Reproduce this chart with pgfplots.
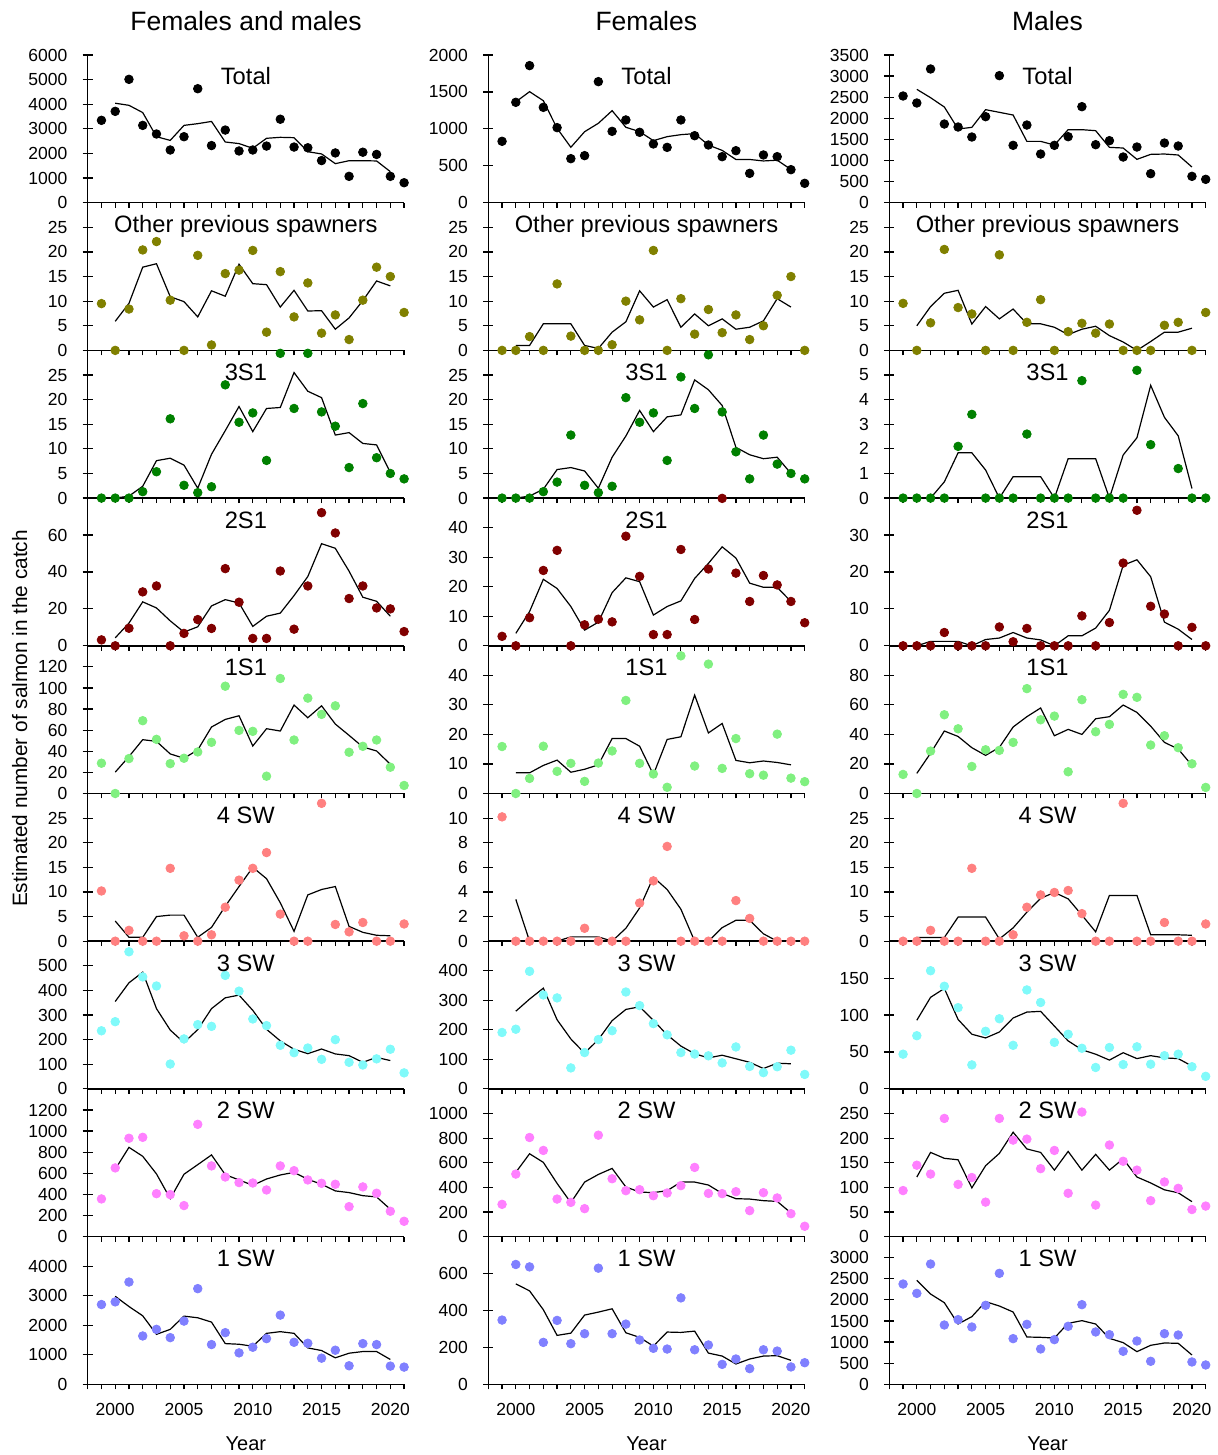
\documentclass[border=0pt]{standalone}
\usepackage{fontspec}
\setmainfont{Liberation Sans}
\usepackage{pgfplots}
\pgfplotsset{compat=1.18}
\definecolor{cTot}{RGB}{0,0,0}
\definecolor{cOth}{RGB}{128,128,0}
\definecolor{cThr}{RGB}{0,128,0}
\definecolor{cTwo}{RGB}{128,0,0}
\definecolor{cOne}{RGB}{128,240,128}
\definecolor{cFsw}{RGB}{255,128,128}
\definecolor{cTsw}{RGB}{128,250,250}
\definecolor{cSsw}{RGB}{255,128,255}
\definecolor{cWsw}{RGB}{128,128,255}
\pgfplotsset{
  /pgf/number format/assume math mode=true,
  panel/.style={
    scale only axis, width=158.2pt, height=73.85pt,
    anchor=north west,
    xmin=1998, xmax=2021, ymin=0,
    axis lines=left, axis line style={-, line width=0.75pt},
    clip=false,
    tick align=center, major tick length=5pt, minor tick length=2.5pt,
    tick style={black, line width=0.6pt},
    xtick={2000,2005,...,2020}, minor xtick={1998,...,2021},
    major x tick style={draw=none}, minor x tick style={yshift=-1.25pt},
    xticklabels={},
    scaled y ticks=false,
    yticklabel style={inner sep=0pt, xshift=-7.5pt, font=\fontsize{8.75}{10}\selectfont,
      /pgf/number format/fixed, /pgf/number format/1000 sep={}},
    title style={at={(0.5,1)}, anchor=base, yshift=-21pt, inner sep=0pt,
      font=\fontsize{11.85}{14}\selectfont},
  },
  bottom/.style={
    xticklabels={2000,2005,2010,2015,2020},
    xticklabel style={inner sep=0pt, yshift=-7pt, font=\fontsize{8.75}{10}\selectfont},
    xlabel={Year},
    xlabel style={at={(0.5,0)}, anchor=base, yshift=-32.85pt, inner sep=0pt,
      font=\fontsize{10}{12}\selectfont},
  },
}
\newcommand{\obs}[2]{\addplot[only marks, mark=*, mark size=2.15pt, color=#1] coordinates {#2};}
\newcommand{\trend}[1]{\addplot[black, line width=0.6pt, mark=none] coordinates {#1};}
\begin{document}
\begin{tikzpicture}
\path[use as bounding box] (0,0) rectangle (609pt,727.5pt);
\node[anchor=base, font=\fontsize{13.25}{15}\selectfont] at (123pt,712pt) {Females and males};
\node[anchor=base, font=\fontsize{13.25}{15}\selectfont] at (323.15pt,712pt) {Females};
\node[anchor=base, font=\fontsize{13.25}{15}\selectfont] at (523.75pt,712pt) {Males};
\node[anchor=base, rotate=90, font=\fontsize{10.4}{12}\selectfont] at (13.5pt,368.25pt) {Estimated number of salmon in the catch};

% ================= Column 1: Females and males =================
\begin{axis}[panel, at={(43.85pt,700pt)}, ymax=6000, ytick={0,1000,...,6000}, title={Total}]
\obs{cTot}{(1999,3345)(2000,3710)(2001,5010)(2002,3140)(2003,2790)(2004,2140)(2005,2680)(2006,4630)(2007,2320)(2008,2950)(2009,2100)(2010,2140)(2011,2300)(2012,3390)(2013,2260)(2014,2230)(2015,1710)(2016,2020)(2017,1070)(2018,2050)(2019,1960)(2020,1070)(2021,810)}
\trend{(2000,4040)(2001,3955)(2002,3660)(2003,2680)(2004,2530)(2005,3140)(2006,3210)(2007,3300)(2008,2465)(2009,2400)(2010,2210)(2011,2615)(2012,2655)(2013,2640)(2014,2070)(2015,1980)(2016,1585)(2017,1705)(2018,1705)(2019,1695)(2020,1260)}
\end{axis}
\begin{axis}[panel, at={(43.85pt,626.15pt)}, ymax=30, ytick={0,5,...,25}, title={Other previous spawners}]
\obs{cOth}{(1999,9.5)(2000,0)(2001,8.4)(2002,20.4)(2003,22.1)(2004,10.2)(2005,0)(2006,19.3)(2007,1.1)(2008,15.6)(2009,16.3)(2010,20.3)(2011,3.7)(2012,16.0)(2013,6.8)(2014,13.7)(2015,3.5)(2016,7.2)(2017,2.2)(2018,10.2)(2019,16.9)(2020,15.0)(2021,7.7)}
\trend{(2000,5.9)(2001,9.55)(2002,16.9)(2003,17.6)(2004,10.9)(2005,9.9)(2006,6.8)(2007,12.1)(2008,11.0)(2009,17.5)(2010,13.55)(2011,13.35)(2012,8.8)(2013,12.2)(2014,8.0)(2015,8.06)(2016,4.3)(2017,6.6)(2018,10.1)(2019,14.1)(2020,13.1)}
\end{axis}
\begin{axis}[panel, at={(43.85pt,552.3pt)}, ymax=30, ytick={0,5,...,25}, title={3S1}]
\obs{cThr}{(1999,0)(2000,0)(2001,0)(2002,1.3)(2003,5.35)(2004,16.1)(2005,2.6)(2006,1.1)(2007,2.3)(2008,23.0)(2009,15.4)(2010,17.3)(2011,7.65)(2012,29.4)(2013,18.2)(2014,29.4)(2015,17.5)(2016,14.6)(2017,6.2)(2018,19.2)(2019,8.2)(2020,5.0)(2021,3.9)}
\trend{(2000,0)(2001,0.4)(2002,2.4)(2003,7.6)(2004,8.1)(2005,6.7)(2006,2.0)(2007,8.9)(2008,13.7)(2009,18.6)(2010,13.5)(2011,18.2)(2012,18.4)(2013,25.5)(2014,21.7)(2015,20.4)(2016,12.8)(2017,13.3)(2018,11.1)(2019,10.8)(2020,5.2)}
\end{axis}
\begin{axis}[panel, at={(43.85pt,478.45pt)}, ymax=80, ytick={0,20,40,60}, title={2S1}]
\obs{cTwo}{(1999,3.2)(2000,0)(2001,9.5)(2002,29.2)(2003,32.4)(2004,0)(2005,6.7)(2006,14.2)(2007,9.4)(2008,41.8)(2009,23.6)(2010,4.0)(2011,4.0)(2012,40.5)(2013,9.0)(2014,32.4)(2015,72.1)(2016,61.1)(2017,25.6)(2018,32.4)(2019,20.5)(2020,20.0)(2021,7.7)}
\trend{(2000,4.3)(2001,12.3)(2002,23.8)(2003,20.5)(2004,13.5)(2005,7.4)(2006,10.3)(2007,21.6)(2008,25.0)(2009,23.2)(2010,10.5)(2011,16.0)(2012,17.7)(2013,27.2)(2014,37.5)(2015,55.3)(2016,52.8)(2017,40.4)(2018,26.3)(2019,24.1)(2020,16.0)}
\end{axis}
\begin{axis}[panel, at={(43.85pt,404.6pt)}, ymax=140, ytick={0,20,...,120}, title={1S1}]
\obs{cOne}{(1999,28.7)(2000,0)(2001,33.1)(2002,69.0)(2003,51.3)(2004,28.3)(2005,33.4)(2006,39.4)(2007,48.5)(2008,101.7)(2009,59.8)(2010,58.9)(2011,16.4)(2012,109.0)(2013,50.7)(2014,90.4)(2015,75.0)(2016,83.1)(2017,39.1)(2018,44.7)(2019,50.7)(2020,24.9)(2021,7.6)}
\trend{(2000,20.2)(2001,35.0)(2002,51.0)(2003,49.4)(2004,37.5)(2005,33.4)(2006,41.3)(2007,63.0)(2008,70.2)(2009,73.7)(2010,45.0)(2011,61.4)(2012,59.2)(2013,83.8)(2014,71.8)(2015,83.1)(2016,65.8)(2017,55.1)(2018,44.1)(2019,40.3)(2020,27.7)}
\end{axis}
\begin{axis}[panel, at={(43.85pt,330.75pt)}, ymax=30, ytick={0,5,...,25}, title={4 SW}]
\obs{cFsw}{(1999,10.2)(2000,0)(2001,2.2)(2002,0)(2003,0)(2004,14.8)(2005,1.1)(2006,0)(2007,1.3)(2008,6.9)(2009,12.4)(2010,14.8)(2011,18.0)(2012,5.5)(2013,0)(2014,0)(2015,28.0)(2016,3.4)(2017,1.9)(2018,3.8)(2019,0)(2020,0)(2021,3.5)}
\trend{(2000,4.1)(2001,0.8)(2002,0.8)(2003,5.0)(2004,5.3)(2005,5.3)(2006,0.8)(2007,2.8)(2008,7.1)(2009,11.1)(2010,15.0)(2011,12.7)(2012,7.8)(2013,2.0)(2014,9.4)(2015,10.5)(2016,11.1)(2017,3.0)(2018,1.8)(2019,1.2)(2020,1.1)}
\end{axis}
\begin{axis}[panel, at={(43.85pt,256.9pt)}, ymax=600, ytick={0,100,...,500}, title={3 SW}]
\obs{cTsw}{(1999,236)(2000,273)(2001,557)(2002,455)(2003,418)(2004,101)(2005,203)(2006,261)(2007,254)(2008,461)(2009,397)(2010,284)(2011,257)(2012,177)(2013,147)(2014,166)(2015,120)(2016,200)(2017,108)(2018,97)(2019,122)(2020,161)(2021,65)}
\trend{(2000,355)(2001,431)(2002,474)(2003,326)(2004,239)(2005,188)(2006,241)(2007,326)(2008,370)(2009,381)(2010,319)(2011,242)(2012,195)(2013,161)(2014,143)(2015,162)(2016,142)(2017,135)(2018,108)(2019,128)(2020,115)}
\end{axis}
\begin{axis}[panel, at={(43.85pt,183.05pt)}, ymax=1400, ytick={0,200,...,1200}, title={2 SW}]
\obs{cSsw}{(1999,357)(2000,651)(2001,932)(2002,941)(2003,407)(2004,398)(2005,294)(2006,1064)(2007,670)(2008,565)(2009,512)(2010,508)(2011,442)(2012,670)(2013,625)(2014,537)(2015,505)(2016,496)(2017,284)(2018,471)(2019,411)(2020,240)(2021,145)}
\trend{(2000,638)(2001,846)(2002,761)(2003,594)(2004,360)(2005,591)(2006,682)(2007,774)(2008,587)(2009,537)(2010,486)(2011,546)(2012,584)(2013,609)(2014,543)(2015,496)(2016,433)(2017,417)(2018,388)(2019,376)(2020,259)}
\end{axis}
\begin{axis}[panel, bottom, at={(43.85pt,109.2pt)}, ymax=5000, ytick={0,1000,...,4000}, title={1 SW}]
\obs{cWsw}{(1999,2700)(2000,2790)(2001,3462)(2002,1636)(2003,1860)(2004,1580)(2005,2140)(2006,3238)(2007,1345)(2008,1748)(2009,1064)(2010,1255)(2011,1546)(2012,2342)(2013,1423)(2014,1389)(2015,885)(2016,1154)(2017,627)(2018,1378)(2019,1345)(2020,616)(2021,583)}
\trend{(2000,2980)(2001,2633)(2002,2319)(2003,1692)(2004,1860)(2005,2308)(2006,2252)(2007,2106)(2008,1378)(2009,1356)(2010,1289)(2011,1725)(2012,1782)(2013,1725)(2014,1232)(2015,1143)(2016,896)(2017,1053)(2018,1109)(2019,1109)(2020,840)}
\end{axis}

% ================= Column 2: Females =================
\begin{axis}[panel, at={(244.15pt,700pt)}, ymax=2000, ytick={0,500,...,2000}, title={Total}]
\obs{cTot}{(1999,831)(2000,1359)(2001,1856)(2002,1291)(2003,1016)(2004,596)(2005,637)(2006,1639)(2007,966)(2008,1120)(2009,953)(2010,795)(2011,749)(2012,1120)(2013,907)(2014,781)(2015,623)(2016,704)(2017,397)(2018,646)(2019,623)(2020,447)(2021,262)}
\trend{(2000,1365)(2001,1503)(2002,1381)(2003,1007)(2004,750)(2005,961)(2006,1075)(2007,1246)(2008,1021)(2009,962)(2010,840)(2011,894)(2012,921)(2013,935)(2014,780)(2015,708)(2016,585)(2017,585)(2018,565)(2019,575)(2020,450)}
\end{axis}
\begin{axis}[panel, at={(244.15pt,626.15pt)}, ymax=30, ytick={0,5,...,25}, title={Other previous spawners}]
\obs{cOth}{(1999,0)(2000,0)(2001,2.8)(2002,0)(2003,13.5)(2004,2.9)(2005,0)(2006,0)(2007,1.15)(2008,10.0)(2009,6.2)(2010,20.3)(2011,0)(2012,10.5)(2013,3.3)(2014,8.3)(2015,3.6)(2016,7.2)(2017,2.2)(2018,5.0)(2019,11.2)(2020,15.0)(2021,0)}
\trend{(2000,1.0)(2001,1.0)(2002,5.4)(2003,5.4)(2004,5.4)(2005,1.0)(2006,0.4)(2007,3.7)(2008,5.8)(2009,12.1)(2010,8.8)(2011,10.3)(2012,4.7)(2013,7.4)(2014,5.0)(2015,6.4)(2016,4.3)(2017,4.7)(2018,6.0)(2019,10.5)(2020,8.8)}
\end{axis}
\begin{axis}[panel, at={(244.15pt,552.3pt)}, ymax=30, ytick={0,5,...,25}, title={3S1}]
\obs{cThr}{(1999,0)(2000,0)(2001,0)(2002,1.3)(2003,3.25)(2004,12.8)(2005,2.6)(2006,1.1)(2007,2.4)(2008,20.4)(2009,15.4)(2010,17.3)(2011,7.65)(2012,24.6)(2013,18.2)(2014,29.1)(2015,17.5)(2016,9.4)(2017,3.9)(2018,12.8)(2019,6.9)(2020,5.0)(2021,3.9)}
\trend{(2000,0)(2001,0.4)(2002,1.8)(2003,5.8)(2004,6.2)(2005,5.5)(2006,2.0)(2007,8.3)(2008,12.6)(2009,17.8)(2010,13.5)(2011,16.5)(2012,16.9)(2013,24.0)(2014,22.0)(2015,18.8)(2016,10.3)(2017,8.8)(2018,8.0)(2019,8.3)(2020,5.0)}
\end{axis}
\begin{axis}[panel, at={(244.15pt,478.45pt)}, ymax=50, ytick={0,10,...,40}, title={2S1}]
\obs{cTwo}{(1999,3.2)(2000,0)(2001,9.5)(2002,25.5)(2003,32.3)(2004,0)(2005,7.1)(2006,9.0)(2007,8.1)(2008,37.1)(2009,23.5)(2010,3.8)(2011,3.8)(2012,32.6)(2013,8.9)(2014,26.0)(2015,49.9)(2016,24.6)(2017,15.0)(2018,23.8)(2019,20.6)(2020,15.0)(2021,7.8)}
\trend{(2000,4.2)(2001,11.6)(2002,22.5)(2003,19.4)(2004,13.3)(2005,5.3)(2006,8.0)(2007,18.0)(2008,23.0)(2009,21.7)(2010,10.4)(2011,13.3)(2012,15.2)(2013,22.8)(2014,27.9)(2015,33.5)(2016,29.7)(2017,21.2)(2018,19.8)(2019,19.8)(2020,15.0)}
\end{axis}
\begin{axis}[panel, at={(244.15pt,404.6pt)}, ymax=50, ytick={0,10,...,40}, title={1S1}]
\obs{cOne}{(1999,15.9)(2000,0)(2001,5.1)(2002,16.0)(2003,7.5)(2004,10.2)(2005,4.1)(2006,10.3)(2007,14.4)(2008,31.5)(2009,10.2)(2010,6.6)(2011,2.1)(2012,46.6)(2013,9.3)(2014,43.8)(2015,8.5)(2016,18.6)(2017,6.7)(2018,6.2)(2019,20.1)(2020,5.2)(2021,4.0)}
\trend{(2000,7.0)(2001,7.0)(2002,9.5)(2003,11.3)(2004,7.2)(2005,8.2)(2006,9.7)(2007,18.6)(2008,18.6)(2009,16.0)(2010,6.4)(2011,18.3)(2012,19.2)(2013,33.3)(2014,20.5)(2015,23.7)(2016,11.2)(2017,10.4)(2018,11.0)(2019,10.5)(2020,9.7)}
\end{axis}
\begin{axis}[panel, at={(244.15pt,330.75pt)}, ymax=12, ytick={0,2,...,10}, title={4 SW}]
\obs{cFsw}{(1999,10.1)(2000,0)(2001,0)(2002,0)(2003,0)(2004,0)(2005,1.05)(2006,0)(2007,0)(2008,0)(2009,3.1)(2010,4.9)(2011,7.7)(2012,0)(2013,0)(2014,0)(2015,0)(2016,3.3)(2017,1.85)(2018,0)(2019,0)(2020,0)(2021,0)}
\trend{(2000,3.4)(2001,0)(2002,0)(2003,0)(2004,0.35)(2005,0.35)(2006,0.35)(2007,0)(2008,1.05)(2009,2.7)(2010,5.2)(2011,4.2)(2012,2.6)(2013,0)(2014,0)(2015,1.1)(2016,1.7)(2017,1.7)(2018,0.6)(2019,0)(2020,0)}
\end{axis}
\begin{axis}[panel, at={(244.15pt,256.9pt)}, ymax=500, ytick={0,100,...,400}, title={3 SW}]
\obs{cTsw}{(1999,191)(2000,202)(2001,398)(2002,318)(2003,308)(2004,71)(2005,123)(2006,167)(2007,197)(2008,328)(2009,282)(2010,221)(2011,183)(2012,123)(2013,118)(2014,112)(2015,88)(2016,142)(2017,76)(2018,55)(2019,75)(2020,131)(2021,49)}
\trend{(2000,263)(2001,304)(2002,341)(2003,234)(2004,169)(2005,121)(2006,167)(2007,231)(2008,269)(2009,278)(2010,232)(2011,183)(2012,145)(2013,119)(2014,105)(2015,114)(2016,102)(2017,90)(2018,69)(2019,87)(2020,85)}
\end{axis}
\begin{axis}[panel, at={(244.15pt,183.05pt)}, ymax=1200, ytick={0,200,...,1000}, title={2 SW}]
\obs{cSsw}{(1999,262)(2000,508)(2001,805)(2002,700)(2003,305)(2004,278)(2005,227)(2006,824)(2007,470)(2008,373)(2009,381)(2010,332)(2011,354)(2012,414)(2013,562)(2014,351)(2015,349)(2016,365)(2017,211)(2018,357)(2019,314)(2020,186)(2021,84)}
\trend{(2000,522)(2001,673)(2002,603)(2003,432)(2004,276)(2005,443)(2006,505)(2007,554)(2008,403)(2009,362)(2010,357)(2011,373)(2012,443)(2013,443)(2014,419)(2015,351)(2016,308)(2017,305)(2018,292)(2019,286)(2020,192)}
\end{axis}
\begin{axis}[panel, bottom, at={(244.15pt,109.2pt)}, ymax=800, ytick={0,200,...,600}, title={1 SW}]
\obs{cWsw}{(1999,348)(2000,649)(2001,636)(2002,227)(2003,346)(2004,220)(2005,274)(2006,629)(2007,274)(2008,326)(2009,240)(2010,195)(2011,191)(2012,468)(2013,187)(2014,213)(2015,108)(2016,137)(2017,85)(2018,187)(2019,180)(2020,94)(2021,117)}
\trend{(2000,544)(2001,506)(2002,404)(2003,265)(2004,277)(2005,375)(2006,391)(2007,409)(2008,279)(2009,254)(2010,207)(2011,283)(2012,281)(2013,288)(2014,169)(2015,153)(2016,110)(2017,137)(2018,153)(2019,155)(2020,130)}
\end{axis}

% ================= Column 3: Males =================
\begin{axis}[panel, at={(444.65pt,700pt)}, ymax=3500, ytick={0,500,...,3500}, title={Total}]
\obs{cTot}{(1999,2528)(2000,2362)(2001,3168)(2002,1864)(2003,1793)(2004,1556)(2005,2038)(2006,3010)(2007,1359)(2008,1840)(2009,1153)(2010,1359)(2011,1564)(2012,2275)(2013,1374)(2014,1469)(2015,1082)(2016,1319)(2017,687)(2018,1414)(2019,1343)(2020,624)(2021,553)}
\trend{(2000,2686)(2001,2488)(2002,2267)(2003,1746)(2004,1785)(2005,2204)(2006,2141)(2007,2077)(2008,1453)(2009,1453)(2010,1366)(2011,1730)(2012,1730)(2013,1706)(2014,1311)(2015,1295)(2016,1027)(2017,1145)(2018,1153)(2019,1130)(2020,845)}
\end{axis}
\begin{axis}[panel, at={(444.65pt,626.15pt)}, ymax=30, ytick={0,5,...,25}, title={Other previous spawners}]
\obs{cOth}{(1999,9.55)(2000,0)(2001,5.6)(2002,20.5)(2003,8.7)(2004,7.4)(2005,0)(2006,19.4)(2007,0)(2008,5.7)(2009,10.3)(2010,0)(2011,3.8)(2012,5.5)(2013,3.5)(2014,5.35)(2015,0)(2016,0)(2017,0)(2018,5.1)(2019,5.7)(2020,0)(2021,7.7)}
\trend{(2000,5.0)(2001,8.9)(2002,11.6)(2003,12.2)(2004,5.35)(2005,8.9)(2006,6.4)(2007,8.4)(2008,5.4)(2009,5.4)(2010,4.7)(2011,3.2)(2012,4.3)(2013,4.9)(2014,3.0)(2015,1.7)(2016,0)(2017,1.8)(2018,3.7)(2019,3.7)(2020,4.5)}
\end{axis}
\begin{axis}[panel, at={(444.65pt,552.3pt)}, ymax=6, ytick={0,1,...,5}, title={3S1}]
\obs{cThr}{(1999,0)(2000,0)(2001,0)(2002,0)(2003,2.1)(2004,3.4)(2005,0)(2006,0)(2007,0)(2008,2.6)(2009,0)(2010,0)(2011,0)(2012,4.77)(2013,0)(2014,0)(2015,0)(2016,5.19)(2017,2.17)(2019,1.2)(2020,0)(2021,0)}
\trend{(2000,0)(2001,0)(2002,0.66)(2003,1.84)(2004,1.84)(2005,1.14)(2006,0)(2007,0.87)(2008,0.87)(2009,0.87)(2010,0)(2011,1.6)(2012,1.6)(2013,1.6)(2014,0)(2015,1.75)(2016,2.45)(2017,4.58)(2018,3.28)(2019,2.53)(2020,0.39)}
\end{axis}
\begin{axis}[panel, at={(444.65pt,478.45pt)}, ymax=40, ytick={0,10,20,30}, title={2S1}]
\obs{cTwo}{(1999,0)(2000,0)(2001,0)(2002,3.6)(2003,0)(2004,0)(2005,0)(2006,5.1)(2007,1.1)(2008,4.7)(2009,0)(2010,0)(2011,0)(2012,8.1)(2013,0)(2014,6.3)(2015,22.4)(2016,36.7)(2017,10.7)(2018,8.6)(2019,0)(2020,5.0)(2021,0)}
\trend{(2000,0)(2001,1.2)(2002,1.2)(2003,1.2)(2004,0)(2005,1.7)(2006,2.1)(2007,3.6)(2008,2.1)(2009,1.6)(2010,0)(2011,2.7)(2012,2.7)(2013,4.8)(2014,9.6)(2015,21.8)(2016,23.3)(2017,18.7)(2018,6.4)(2019,4.5)(2020,1.7)}
\end{axis}
\begin{axis}[panel, at={(444.65pt,404.6pt)}, ymax=100, ytick={0,20,...,80}, title={1S1}]
\obs{cOne}{(1999,12.9)(2000,0)(2001,28.7)(2002,53.3)(2003,43.8)(2004,18.3)(2005,29.6)(2006,29.2)(2007,34.6)(2008,71.0)(2009,49.9)(2010,52.4)(2011,14.7)(2012,63.5)(2013,41.8)(2014,46.8)(2015,67.1)(2016,65.1)(2017,32.8)(2018,39.1)(2019,31.0)(2020,20.1)(2021,4.1)}
\trend{(2000,13.6)(2001,27.3)(2002,42.3)(2003,38.6)(2004,31.0)(2005,25.8)(2006,31.2)(2007,45.0)(2008,52.0)(2009,57.9)(2010,39.1)(2011,43.4)(2012,40.0)(2013,50.6)(2014,52.0)(2015,59.9)(2016,54.9)(2017,45.6)(2018,34.6)(2019,30.1)(2020,19.0)}
\end{axis}
\begin{axis}[panel, at={(444.65pt,330.75pt)}, ymax=30, ytick={0,5,...,25}, title={4 SW}]
\obs{cFsw}{(1999,0)(2000,0)(2001,2.2)(2002,0)(2003,0)(2004,14.8)(2005,0)(2006,0)(2007,1.3)(2008,6.9)(2009,9.4)(2010,9.9)(2011,10.3)(2012,5.6)(2013,0)(2014,0)(2015,28.0)(2016,0)(2017,0)(2018,3.8)(2019,0)(2020,0)(2021,3.5)}
\trend{(2000,0.75)(2001,0.75)(2002,0.75)(2003,4.9)(2004,4.9)(2005,4.9)(2006,0.45)(2007,2.7)(2008,5.9)(2009,8.7)(2010,9.9)(2011,8.6)(2012,5.3)(2013,1.9)(2014,9.3)(2015,9.3)(2016,9.3)(2017,1.3)(2018,1.3)(2019,1.3)(2020,1.2)}
\end{axis}
\begin{axis}[panel, at={(444.65pt,256.9pt)}, ymax=200, ytick={0,50,...,150}, title={3 SW}]
\obs{cTsw}{(1999,47)(2000,72)(2001,160)(2002,139)(2003,110)(2004,32.5)(2005,78)(2006,95)(2007,59)(2008,134)(2009,117)(2010,63)(2011,74)(2012,55)(2013,29)(2014,56)(2015,33)(2016,57)(2017,33.4)(2018,45)(2019,47)(2020,30)(2021,17)}
\trend{(2000,93)(2001,124)(2002,136)(2003,94)(2004,74)(2005,69)(2006,77)(2007,96)(2008,104)(2009,105)(2010,85)(2011,65)(2012,53)(2013,47)(2014,39)(2015,49)(2016,41)(2017,45)(2018,42)(2019,41)(2020,31)}
\end{axis}
\begin{axis}[panel, at={(444.65pt,183.05pt)}, ymax=300, ytick={0,50,...,250}, title={2 SW}]
\obs{cSsw}{(1999,93.5)(2000,145)(2001,127)(2002,240)(2003,106)(2004,120)(2005,70)(2006,240)(2007,196)(2008,198)(2009,138)(2010,175)(2011,88)(2012,253)(2013,64)(2014,186)(2015,153)(2016,135)(2017,73)(2018,111)(2019,98)(2020,55)(2021,62)}
\trend{(2000,121)(2001,171)(2002,159)(2003,156)(2004,99)(2005,144)(2006,169)(2007,212)(2008,178)(2009,171)(2010,135)(2011,173)(2012,135)(2013,167)(2014,135)(2015,158)(2016,121)(2017,109)(2018,95)(2019,89)(2020,71)}
\end{axis}
\begin{axis}[panel, bottom, at={(444.65pt,109.2pt)}, ymax=3500, ytick={0,500,...,3000}, title={1 SW}]
\obs{cWsw}{(1999,2376)(2000,2155)(2001,2850)(2002,1405)(2003,1532)(2004,1358)(2005,1871)(2006,2629)(2007,1082)(2008,1421)(2009,837)(2010,1058)(2011,1374)(2012,1887)(2013,1240)(2014,1176)(2015,782)(2016,1026)(2017,545)(2018,1200)(2019,1168)(2020,529)(2021,458)}
\trend{(2000,2463)(2001,2139)(2002,1934)(2003,1429)(2004,1603)(2005,1958)(2006,1855)(2007,1713)(2008,1121)(2009,1113)(2010,1097)(2011,1445)(2012,1508)(2013,1429)(2014,1089)(2015,987)(2016,774)(2017,924)(2018,979)(2019,971)(2020,695)}
\end{axis}
\end{tikzpicture}
\end{document}
